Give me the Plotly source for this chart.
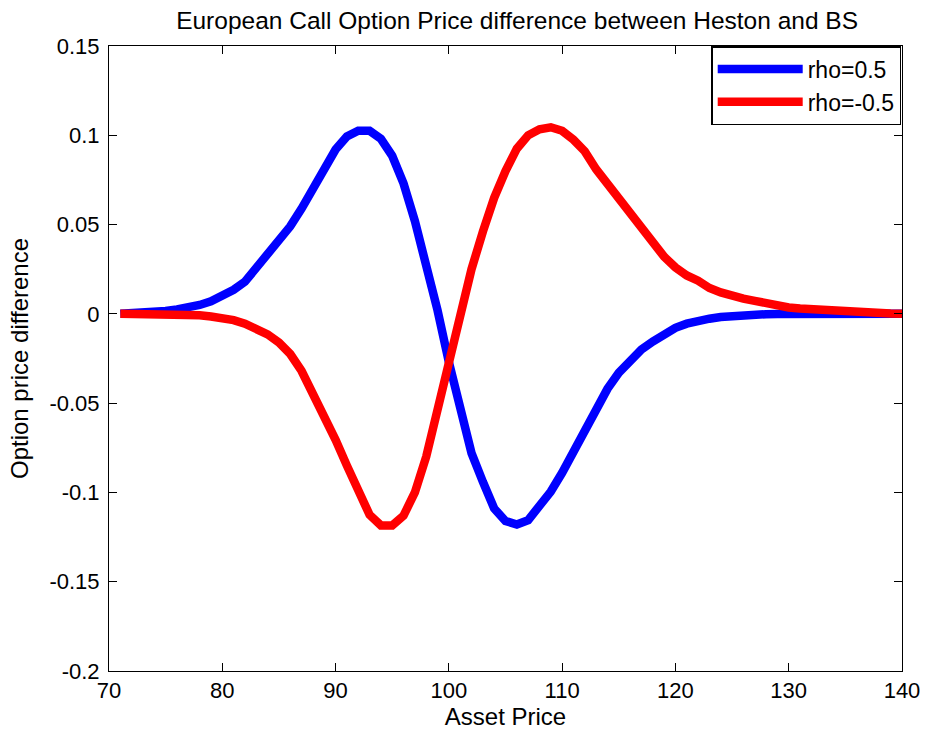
import plotly.graph_objects as go

asset_price = list(range(71, 141))

rho_pos = [0, 0.0002, 0.0005, 0.001, 0.0016, 0.0025, 0.0035, 0.005, 0.007, 0.0098,
           0.0135, 0.018, 0.0255, 0.033, 0.040, 0.049, 0.059, 0.0705, 0.082, 0.092,
           0.0993, 0.1025, 0.1025, 0.098, 0.0885, 0.073, 0.052, 0.028, 0.002, -0.027,
           -0.055, -0.078, -0.094, -0.109, -0.116, -0.118, -0.1155, -0.108, -0.0995, -0.089,
           -0.077, -0.064, -0.052, -0.042, -0.033, -0.0265, -0.020, -0.0155, -0.0115, -0.0078,
           -0.0055, -0.0037, -0.0027, -0.0018, -0.0012, -0.0009, -0.0007, -0.0002, -0.0001, 0,
           0, 0, 0, 0, 0, 0, 0, 0, 0, 0]

rho_neg = [0, 0, 0, 0, 0, 0, 0, -0.0008, -0.0015, -0.002,
           -0.0035, -0.0055, -0.008, -0.0115, -0.016, -0.0225, -0.032, -0.044, -0.057, -0.0705,
           -0.085, -0.100, -0.1125, -0.1185, -0.1185, -0.113, -0.100, -0.080, -0.054, -0.027,
           0.0, 0.025, 0.046, 0.065, 0.080, 0.0925, 0.100, 0.1034, 0.1045, 0.1025,
           0.0975, 0.091, 0.081, 0.073, 0.065, 0.0565, 0.049, 0.0395, 0.032, 0.026,
           0.0215, 0.0186, 0.0145, 0.012, 0.010, 0.0085, 0.0073, 0.0058, 0.0045, 0.0036,
           0.003, 0.0025, 0.002, 0.0016, 0.0012, 0.001, 0.0008, 0.0005, 0.0002, 0]

x_ticks = [70, 80, 90, 100, 110, 120, 130, 140]
y_ticks = [-0.2, -0.15, -0.1, -0.05, 0, 0.05, 0.1, 0.15]
y_tick_labels = ["-0.2", "-0.15", "-0.1", "-0.05", "0", "0.05", "0.1", "0.15"]

font_family = "Liberation Sans, Arial, sans-serif"

fig = go.Figure()
fig.add_trace(go.Scatter(x=asset_price, y=rho_pos, mode="lines", name="rho=0.5",
                         line=dict(color="#0000ff", width=8.5)))
fig.add_trace(go.Scatter(x=asset_price, y=rho_neg, mode="lines", name="rho=-0.5",
                         line=dict(color="#ff0000", width=8.5)))

axis_common = dict(showgrid=False, zeroline=False, showline=True, linecolor="black",
                   linewidth=1, mirror="ticks", ticks="inside", ticklen=8,
                   tickcolor="black", tickfont=dict(size=22, color="black"),
                   automargin=False)

W, H = 925, 736
fig.update_layout(
    width=W, height=H,
    margin=dict(l=109, r=23, t=46, b=65),
    paper_bgcolor="white", plot_bgcolor="white",
    font=dict(family=font_family, color="black"),
    title=dict(text="European Call Option Price difference between Heston and BS",
               x=0.559, xanchor="center", y=1 - 20 / H, yanchor="middle",
               font=dict(size=24.5, color="black")),
    xaxis=dict(range=[70, 140], tickvals=x_ticks,
               title=dict(text="Asset Price", font=dict(size=24), standoff=0),
               **axis_common),
    yaxis=dict(range=[-0.2, 0.15], tickvals=y_ticks, ticktext=y_tick_labels,
               ticklabelstandoff=4,
               title=dict(text="Option price difference", font=dict(size=24), standoff=14),
               **axis_common),
    legend=dict(x=0.999, xanchor="right", y=1.0, yanchor="top",
                bgcolor="white", bordercolor="black", borderwidth=1.5,
                font=dict(size=23), itemwidth=85),
    showlegend=True,
)

# remove the default page margin so the figure fills the 925x736 window exactly
fig.write_html("out.html",
               config={"displayModeBar": False},
               post_script="document.body.style.margin='0';document.body.style.overflow='hidden';")
